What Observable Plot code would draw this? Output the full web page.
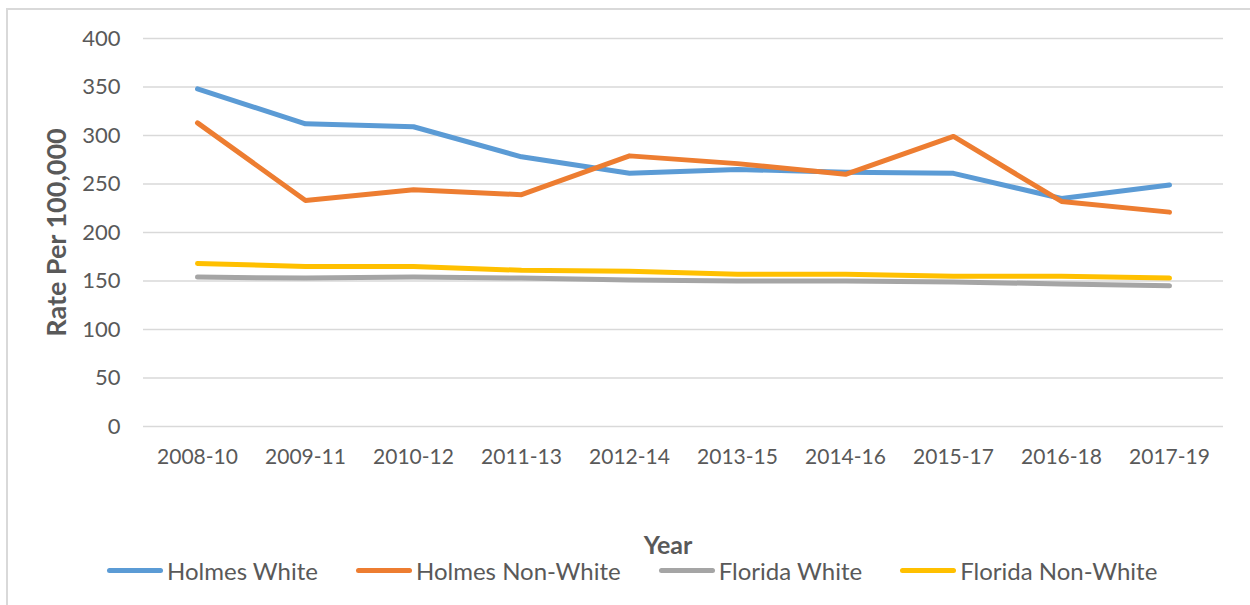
<!DOCTYPE html>
<html>
<head>
<meta charset="utf-8">
<script src="https://cdn.jsdelivr.net/npm/d3@7"></script>
<script src="https://cdn.jsdelivr.net/npm/@observablehq/plot@0.6"></script>
<style>
  html, body { margin: 0; padding: 0; background: #fff; }
  #wrap { position: relative; width: 1250px; height: 605px; overflow: hidden; font-family: Lato, "Open Sans", sans-serif; }
  #border { position: absolute; left: 6px; top: 8px; width: 1260px; height: 620px; border: 2px solid #d9d9d9; box-sizing: border-box; pointer-events: none; }
  #chart { position: absolute; left: 0; top: 0; }
  g[aria-label="y-axis label"], g[aria-label="y-axis label"] text { font-size: 27px !important; font-weight: bold; }
  #xtitle { position: absolute; top: 529px; left: 668px; transform: translateX(-50%); font-size: 25px; font-weight: bold; color: #595959; }
  #legend { position: absolute; top: 556px; left: 107px; display: flex; align-items: center; gap: 38px; }
  .item { display: flex; align-items: center; gap: 4px; font-size: 24px; color: #595959; }
  .sw { width: 56px; height: 5px; border-radius: 3px; }
</style>
</head>
<body>
<div id="wrap">
  <div id="chart"></div>
  <div id="xtitle"></div>
  <div id="legend"></div>
  <div id="border"></div>
</div>
<script>
const years = ["2008-10","2009-11","2010-12","2011-13","2012-14","2013-15","2014-16","2015-17","2016-18","2017-19"];
const seriesNames = ["Holmes White","Holmes Non-White","Florida White","Florida Non-White"];
const seriesColors = ["#5b9bd5","#ed7d31","#a5a5a5","#ffc000"];
const holmesWhite = [348, 312, 309, 278, 261, 265, 262, 261, 235, 249];
const holmesNonWhite = [313, 233, 244, 239, 279, 271, 260, 299, 232, 221];
const floridaWhite = [154, 153, 154, 153, 151, 150, 150, 149, 147, 145];
const floridaNonWhite = [168, 165, 165, 161, 160, 157, 157, 155, 155, 153];
const yTicks = [0, 50, 100, 150, 200, 250, 300, 350, 400];
const yLabel = "Rate Per 100,000";
const xLabel = "Year";

const allSeries = [holmesWhite, holmesNonWhite, floridaWhite, floridaNonWhite];
const data = [];
allSeries.forEach((vals, si) => {
  vals.forEach((v, i) => data.push({series: seriesNames[si], year: years[i], value: v}));
});

const chart = Plot.plot({
  width: 1250,
  height: 480,
  marginLeft: 143,
  marginRight: 27,
  marginTop: 38,
  marginBottom: 54,
  style: { fontFamily: "Lato, 'Open Sans', sans-serif", color: "#595959", background: "transparent" },
  x: { type: "point", domain: years, padding: 0.5 },
  y: { domain: [0, 400] },
  color: { domain: seriesNames, range: seriesColors },
  marks: [
    Plot.gridY(yTicks, { stroke: "#d9d9d9", strokeOpacity: 1, strokeWidth: 1.5 }),
    Plot.axisY(yTicks, { tickSize: 0, tickPadding: 23, fontSize: 22, label: yLabel, labelAnchor: "center", labelOffset: 97, labelArrow: "none" }),
    Plot.axisX({ tickSize: 0, tickPadding: 23, fontSize: 21, label: null }),
    Plot.line(data, { x: "year", y: "value", z: "series", stroke: "series", strokeWidth: 5, strokeLinecap: "round", strokeLinejoin: "round", sort: null })
  ]
});
document.getElementById("chart").appendChild(chart);

document.getElementById("xtitle").textContent = xLabel;
const legend = document.getElementById("legend");
seriesNames.forEach((name, i) => {
  const item = document.createElement("div");
  item.className = "item";
  const sw = document.createElement("div");
  sw.className = "sw";
  sw.style.background = seriesColors[i];
  const t = document.createElement("span");
  t.textContent = name;
  item.appendChild(sw);
  item.appendChild(t);
  legend.appendChild(item);
});
</script>
</body>
</html>
